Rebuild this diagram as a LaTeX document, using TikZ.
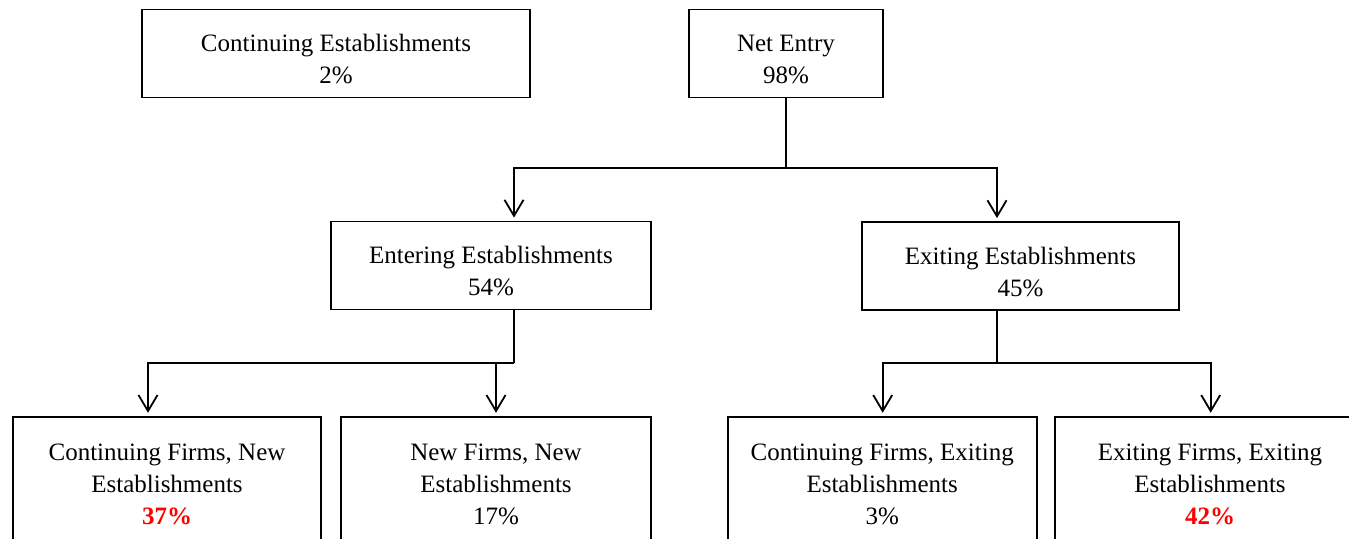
\documentclass[tikz,border=0pt]{standalone}
\usepackage{fontspec}
\setmainfont{Liberation Serif}
\usetikzlibrary{arrows.meta}
\newcommand{\hotpct}[1]{\textcolor{red}{\textbf{#1}}}
\newcommand{\topstrut}{\rule{0pt}{29pt}}
\begin{document}
\begin{tikzpicture}[x=1pt,y=-1pt,>={Straight Barb[length=16pt,width=19pt]},
	box/.style={draw,line width=1.8pt,align=center,inner sep=0pt,font=\fontsize{25pt}{32pt}\selectfont},
	topbox/.style={box,minimum height=88pt},
	lowbox/.style={box,minimum height=135pt},
	link/.style={line width=1.8pt},
	arrowlink/.style={link,->,shorten >=3pt}]
	\useasboundingbox (0,0) rectangle (1349,538);
	\clip (0,0) rectangle (1349,538);
	% first row
	\node[topbox,minimum width=388pt] (contest) at (336,53.5) {\topstrut Continuing Establishments\\2\%};
	\node[topbox,minimum width=194pt] (netentry) at (786,53.5) {\topstrut Net Entry\\98\%};
	% second row
	\node[topbox,minimum width=320pt] (entering) at (491,265.5) {\topstrut Entering Establishments\\54\%};
	\node[topbox,minimum width=317pt] (exiting) at (1020.5,266) {\topstrut Exiting Establishments\\45\%};
	% third row
	\node[lowbox,minimum width=308pt] (cfne) at (167,484.2) {Continuing Firms, New\\Establishments\\\hotpct{37\%}};
	\node[lowbox,minimum width=310pt] (nfne) at (496,484.2) {New Firms, New\\Establishments\\17\%};
	\node[lowbox,minimum width=309pt] (cfxe) at (882.2,484.2) {Continuing Firms, Exiting\\Establishments\\3\%};
	\node[lowbox,minimum width=310pt] (fxe) at (1210,484.2) {Exiting Firms, Exiting\\Establishments\\\hotpct{42\%}};
	% connectors
	\coordinate (jtop) at (786,168);
	\coordinate (jent) at (514,363);
	\coordinate (jexit) at (997,363);
	\draw[link] (netentry.south) -- (jtop);
	\draw[arrowlink] (jtop) -| ([xshift=23pt]entering.north);
	\draw[arrowlink] (jtop) -| ([xshift=-23.5pt]exiting.north);
	\draw[link] ([xshift=23pt]entering.south) -- (jent);
	\draw[arrowlink] (jent) -| ([xshift=-19pt]cfne.north);
	\draw[arrowlink] (jent) -| (nfne.north);
	\draw[link] ([xshift=-23.5pt]exiting.south) -- (jexit);
	\draw[arrowlink] (jexit) -| ([xshift=0.5pt]cfxe.north);
	\draw[arrowlink] (jexit) -| ([xshift=0.7pt]fxe.north);
\end{tikzpicture}
\end{document}
